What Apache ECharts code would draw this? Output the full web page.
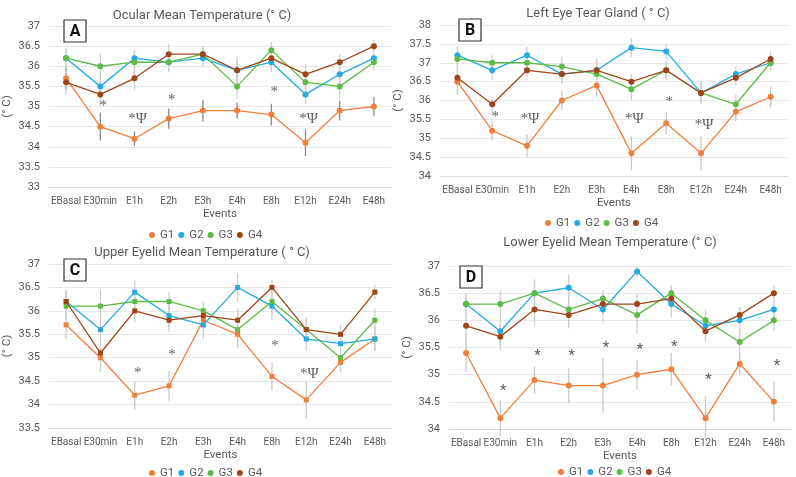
<!DOCTYPE html>
<html><head><meta charset="utf-8">
<script src="https://cdn.jsdelivr.net/npm/echarts@6/dist/echarts.min.js"></script>
<style>html,body{margin:0;padding:0;background:#fff}#c{width:796px;height:477px}</style>
</head><body><div id="c"></div>
<script>
const categories = ['EBasal','E30min','E1h','E2h','E3h','E4h','E8h','E12h','E24h','E48h'];
const groups = ['G1','G2','G3','G4'];

// Panel A - Ocular Mean Temperature
const A_G1 = [35.7,34.5,34.2,34.7,34.9,34.9,34.8,34.1,34.9,35.0];
const A_G2 = [36.2,35.5,36.2,36.1,36.2,35.9,36.1,35.3,35.8,36.2];
const A_G3 = [36.2,36.0,36.1,36.1,36.3,35.5,36.4,35.6,35.5,36.1];
const A_G4 = [35.6,35.3,35.7,36.3,36.3,35.9,36.2,35.8,36.1,36.5];
const A_E1 = [0.3,0.35,0.18,0.25,0.27,0.2,0.27,0.33,0.25,0.24];
const A_E2 = [0.2,0.3,0.2,0.25,0.2,0.35,0.25,0.25,0.2,0.15];
const A_E3 = [0.25,0.33,0.3,0.25,0.2,0.3,0.2,0.3,0.3,0.2];
const A_E4 = [0.3,0.3,0.3,0.25,0.2,0.3,0.3,0.25,0.2,0.15];
const A_marks = [[1,35.0,'*'],[2,34.68,'*Ψ'],[3,35.15,'*'],[6,35.35,'*'],[7,34.68,'*Ψ']];

// Panel B - Left Eye Tear Gland
const B_G1 = [36.5,35.2,34.8,36.0,36.4,34.6,35.4,34.6,35.7,36.1];
const B_G2 = [37.2,36.8,37.2,36.7,36.8,37.4,37.3,36.2,36.7,37.0];
const B_G3 = [37.1,37.0,37.0,36.9,36.7,36.3,36.8,36.2,35.9,37.0];
const B_G4 = [36.6,35.9,36.8,36.7,36.8,36.5,36.8,36.2,36.6,37.1];
const B_E1 = [0.3,0.25,0.3,0.25,0.3,0.45,0.3,0.45,0.25,0.28];
const B_E2 = [0.2,0.25,0.22,0.25,0.3,0.25,0.2,0.25,0.2,0.2];
const B_E3 = [0.3,0.2,0.2,0.25,0.3,0.3,0.25,0.3,0.25,0.2];
const B_E4 = [0.45,0.2,0.2,0.25,0.3,0.2,0.25,0.25,0.2,0.2];
const B_marks = [[1,35.55,'*'],[2,35.5,'*Ψ'],[5,35.5,'*Ψ'],[6,35.95,'*'],[7,35.35,'*Ψ']];

// Panel C - Upper Eyelid Mean Temperature
const C_G1 = [35.7,35.0,34.2,34.4,35.8,35.5,34.6,34.1,34.9,35.4];
const C_G2 = [36.2,35.6,36.4,35.9,35.7,36.5,36.1,35.4,35.3,35.4];
const C_G3 = [36.1,36.1,36.2,36.2,36.0,35.6,36.2,35.6,35.0,35.8];
const C_G4 = [36.2,35.1,36.0,35.8,35.9,35.8,36.5,35.6,35.5,36.4];
const C_E1 = [0.3,0.3,0.3,0.32,0.35,0.3,0.3,0.4,0.2,0.25];
const C_E2 = [0.25,0.35,0.25,0.25,0.3,0.3,0.3,0.25,0.25,0.25];
const C_E3 = [0.3,0.35,0.25,0.2,0.2,0.4,0.3,0.25,0.3,0.25];
const C_E4 = [0.25,0.4,0.25,0.25,0.2,0.25,0.15,0.25,0.2,0.15];
const C_marks = [[2,34.68,'*'],[3,35.05,'*'],[6,35.25,'*'],[7,34.65,'*Ψ']];

// Panel D - Lower Eyelid Mean Temperature
const D_G1 = [35.4,34.2,34.9,34.8,34.8,35.0,35.1,34.2,35.2,34.5];
const D_G2 = [36.3,35.8,36.5,36.6,36.2,36.9,36.3,35.9,36.0,36.2];
const D_G3 = [36.3,36.3,36.5,36.2,36.4,36.1,36.5,36.0,35.6,36.0];
const D_G4 = [35.9,35.7,36.2,36.1,36.3,36.3,36.4,35.8,36.1,36.5];
const D_E1 = [0.35,0.32,0.25,0.32,0.5,0.27,0.3,0.4,0.2,0.37];
const D_E2 = [0.2,0.25,0.25,0.25,0.25,0.1,0.25,0.25,0.25,0.2];
const D_E3 = [0.2,0.25,0.25,0.3,0.15,0.35,0.15,0.2,0.25,0.2];
const D_E4 = [0.6,0.25,0.3,0.25,0.2,0.2,0.2,0.2,0.15,0.15];
const D_marks = [[1,34.7,'*'],[2,35.33,'*'],[3,35.33,'*'],[4,35.48,'*'],[5,35.45,'*'],[6,35.5,'*'],[7,34.9,'*'],[9,35.15,'*']];

const colors = ['#F07F3C','#25AAE1','#5DBB46','#A0451A'];
const txt = '#595959';
const FONT = 'Roboto, "Liberation Sans", sans-serif';

const panels = [
  {title:'Ocular Mean Temperature (° C)', letter:'A', vals:[A_G1,A_G2,A_G3,A_G4], errs:[A_E1,A_E2,A_E3,A_E4], marks:A_marks,
   min:33, max:37, grid:{left:44,top:26,width:347,height:161}, tx:197, ty:4, lx:197, ly:224, box:[64,20], sym:'circle', g1err:'#8c8c8c', star:'serif'},
  {title:'Left Eye Tear Gland ( ° C)', letter:'B', vals:[B_G1,B_G2,B_G3,B_G4], errs:[B_E1,B_E2,B_E3,B_E4], marks:B_marks,
   min:34, max:38, grid:{left:440,top:25,width:348,height:151}, tx:593, ty:2, lx:593, ly:212, box:[459,19], sym:'circle', g1err:'#c8c8c8', star:'serif'},
  {title:'Upper Eyelid Mean Temperature ( ° C)', letter:'C', vals:[C_G1,C_G2,C_G3,C_G4], errs:[C_E1,C_E2,C_E3,C_E4], marks:C_marks,
   min:33.5, max:37, grid:{left:44,top:264,width:348,height:164}, tx:197, ty:241, lx:197, ly:462, box:[64,259], sym:'rect', g1err:'#c8c8c8', star:'serif'},
  {title:'Lower Eyelid Mean Temperature (° C)', letter:'D', vals:[D_G1,D_G2,D_G3,D_G4], errs:[D_E1,D_E2,D_E3,D_E4], marks:D_marks,
   min:34, max:37, grid:{left:449,top:266,width:342,height:163}, tx:605, ty:231, lx:606, ly:461, box:[460,266], sym:'circle', g1err:'#c8c8c8', star:'sans'}
];

const option = {
  animation:false,
  textStyle:{fontFamily:FONT},
  title:[], legend:[], grid:[], xAxis:[], yAxis:[], series:[], graphic:[]
};

panels.forEach((p, pi) => {
  option.title.push({text:p.title, left:p.tx, top:p.ty, textAlign:'center',
    textStyle:{fontSize:13, fontWeight:'normal', color:txt, fontFamily:FONT}});
  option.grid.push(Object.assign({containLabel:false}, p.grid));
  option.xAxis.push({type:'category', gridIndex:pi, data:categories, boundaryGap:true,
    name:'Events', nameLocation:'middle', nameGap:21, nameTextStyle:{color:txt, fontSize:11.5},
    axisLine:{lineStyle:{color:'#d9d9d9'}}, axisTick:{show:false},
    axisLabel:{color:txt, fontSize:10, margin:9, interval:0}});
  option.yAxis.push({type:'value', gridIndex:pi, min:p.min, max:p.max, interval:0.5,
    name:'(° C)', nameLocation:'middle', nameGap:36, nameRotate:90, nameTextStyle:{color:txt, fontSize:11.5},
    axisLine:{show:false}, axisTick:{show:false},
    splitLine:{lineStyle:{color:'#e8e8e8'}},
    axisLabel:{color:txt, fontSize:11, margin:9}});
  p.vals.forEach((v, gi) => {
    option.series.push({type:'custom', xAxisIndex:pi, yAxisIndex:pi, z:1, silent:true,
      data: v.map((y,i)=>[i, y, p.errs[gi][i]]),
      encode:{x:0, y:1},
      renderItem:(params, api) => {
        const x = api.value(0), y = api.value(1), e = api.value(2);
        const hi = api.coord([x, y+e]), lo = api.coord([x, y-e]);
        return {type:'line', shape:{x1:hi[0], y1:hi[1], x2:lo[0], y2:lo[1]},
          style:{stroke: gi===0 ? p.g1err : '#cfcfcf', lineWidth:1.3}};
      }});
    option.series.push({type:'line', name:groups[gi], xAxisIndex:pi, yAxisIndex:pi, z:3+gi,
      data:v, symbol:p.sym, symbolSize:p.sym==='rect'?5:6,
      lineStyle:{color:colors[gi], width:1.3}, itemStyle:{color:colors[gi]}});
  });
  option.series.push({type:'scatter', xAxisIndex:pi, yAxisIndex:pi, z:10, symbolSize:1,
    itemStyle:{color:'rgba(0,0,0,0)'}, silent:true,
    data:p.marks.map(m=>({value:[m[0], m[1]], name:m[2]})),
    label:{show:true, position:'inside', offset:[3,0], formatter:(d)=>d.name,
      fontFamily: p.star==='serif' ? '"Liberation Serif", "DejaVu Serif", serif' : FONT,
      fontSize:15, color:'#333'}});
  option.legend.push({left:p.lx - 53, top:p.ly, orient:'horizontal',
    data:groups, itemWidth:6, itemHeight:6, itemGap:4, icon:'circle',
    textStyle:{color:txt, fontSize:11.5}});
  option.graphic.push({type:'rect', z:50, shape:{x:p.box[0], y:p.box[1], width:22, height:22},
    style:{fill:'#fff', stroke:'#333', lineWidth:1.2}});
  option.graphic.push({type:'text', z:51, x:p.box[0]+11, y:p.box[1]+12,
    style:{text:p.letter, align:'center', verticalAlign:'middle',
      font:'bold 16px Roboto, "Liberation Sans", sans-serif', fill:'#111'}});
});

const chart = echarts.init(document.getElementById('c'), null, {renderer:'canvas'});
chart.setOption(option);
</script></body></html>
